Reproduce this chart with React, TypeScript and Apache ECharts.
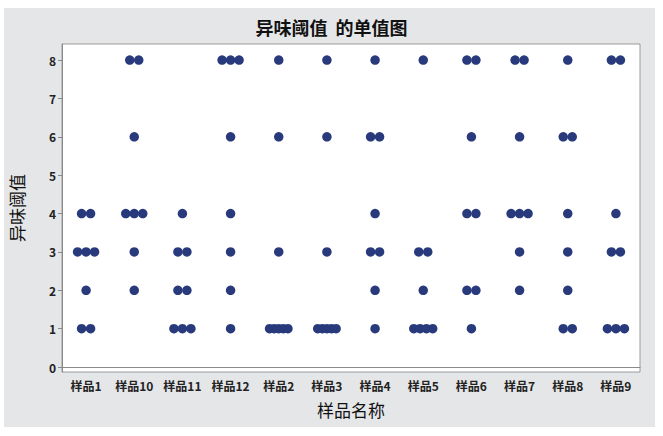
import { useEffect, useRef } from "react";
import * as echarts from "echarts";

// 样品名称 (Minitab sorts them as text)
const categories = [
  "样品1", "样品10", "样品11", "样品12", "样品2", "样品3",
  "样品4", "样品5", "样品6", "样品7", "样品8", "样品9",
];

// 异味阈值, 8 readings per sample
const sample1 = [1, 1, 2, 3, 3, 3, 4, 4];
const sample10 = [2, 3, 4, 4, 4, 6, 8, 8];
const sample11 = [1, 1, 1, 2, 2, 3, 3, 4];
const sample12 = [1, 2, 3, 4, 6, 8, 8, 8];
const sample2 = [1, 1, 1, 1, 1, 3, 6, 8];
const sample3 = [1, 1, 1, 1, 1, 3, 6, 8];
const sample4 = [1, 2, 3, 3, 4, 6, 6, 8];
const sample5 = [1, 1, 1, 1, 2, 3, 3, 8];
const sample6 = [1, 2, 2, 4, 4, 6, 8, 8];
const sample7 = [2, 3, 4, 4, 4, 6, 8, 8];
const sample8 = [1, 1, 2, 3, 4, 6, 6, 8];
const sample9 = [1, 1, 1, 3, 3, 4, 8, 8];

const readings = [
  sample1, sample10, sample11, sample12, sample2, sample3,
  sample4, sample5, sample6, sample7, sample8, sample9,
];

const yTicks = [0, 1, 2, 3, 4, 5, 6, 7, 8];

// horizontal spread (px) between tied dots, by how many share a value
const tieGap: Record<number, number> = { 1: 0, 2: 9, 3: 8.5, 4: 6.3, 5: 4.6 };

const FONT = "'Noto Sans CJK SC', 'Noto Sans', sans-serif";

export default function App() {
  const chartRef = useRef<HTMLDivElement>(null);

  useEffect(() => {
    if (!chartRef.current) return;
    const chart = echarts.init(chartRef.current, undefined, { renderer: "svg" });

    // spread out equal values side by side, like Minitab's individual value plot
    const points: Array<{ value: [number, number]; symbolOffset: [number, number] }> = [];
    readings.forEach((vals, ci) => {
      const counts = new Map<number, number>();
      vals.forEach((v) => counts.set(v, (counts.get(v) || 0) + 1));
      counts.forEach((n, v) => {
        const gap = tieGap[n] ?? 4;
        for (let i = 0; i < n; i++) {
          points.push({
            value: [ci, v],
            symbolOffset: [(i - (n - 1) / 2) * gap, 0],
          });
        }
      });
    });

    const option: echarts.EChartsOption = {
      animation: false,
      backgroundColor: "#ffffff",
      textStyle: { fontFamily: FONT },
      graphic: [
        {
          type: "rect",
          z: -10,
          silent: true,
          shape: { x: 4, y: 8, width: 651, height: 419 },
          style: { fill: "#e5e6e8" },
        },
      ],
      title: {
        text: "异味阈值  的单值图",
        left: "center",
        top: 13,
        textStyle: { fontSize: 18, fontWeight: "bold", color: "#111", fontFamily: FONT },
      },
      grid: {
        left: 51,
        right: 23,
        top: 44,
        bottom: 64,
        show: true,
        backgroundColor: "#ffffff",
        borderColor: "#9a9a9a",
        borderWidth: 1,
      },
      xAxis: {
        type: "category",
        data: categories,
        name: "样品名称",
        nameLocation: "middle",
        nameGap: 29,
        nameTextStyle: { fontSize: 17, color: "#111", fontFamily: FONT },
        axisLine: { lineStyle: { color: "#8a8a8a" } },
        axisTick: { alignWithLabel: true, length: 4, lineStyle: { color: "#8a8a8a" } },
        axisLabel: {
          fontSize: 12,
          fontWeight: "bold",
          color: "#222",
          margin: 7,
          interval: 0,
          fontFamily: FONT,
        },
        splitLine: { show: false },
      },
      yAxis: {
        type: "value",
        min: -0.13,
        max: 8.42,
        name: "异味阈值",
        nameLocation: "middle",
        nameGap: 37,
        nameRotate: 90,
        nameTextStyle: { fontSize: 17, color: "#111", fontFamily: FONT },
        axisLine: { show: true, lineStyle: { color: "#8a8a8a" } },
        axisTick: {
          show: true,
          length: 4,
          customValues: yTicks,
          lineStyle: { color: "#8a8a8a" },
        },
        axisLabel: {
          customValues: yTicks,
          fontSize: 12,
          fontWeight: "bold",
          color: "#222",
          margin: 6,
          fontFamily: FONT,
        },
        splitLine: { show: false },
      },
      series: [
        {
          type: "scatter",
          data: points,
          symbol: "circle",
          symbolSize: 9.5,
          itemStyle: { color: "#283a7c", opacity: 1 },
        },
      ],
    };

    chart.setOption(option);
    return () => chart.dispose();
  }, []);

  return (
    <div
      ref={chartRef}
      style={{ position: "fixed", left: 0, top: 0, width: 663, height: 436 }}
    />
  );
}
